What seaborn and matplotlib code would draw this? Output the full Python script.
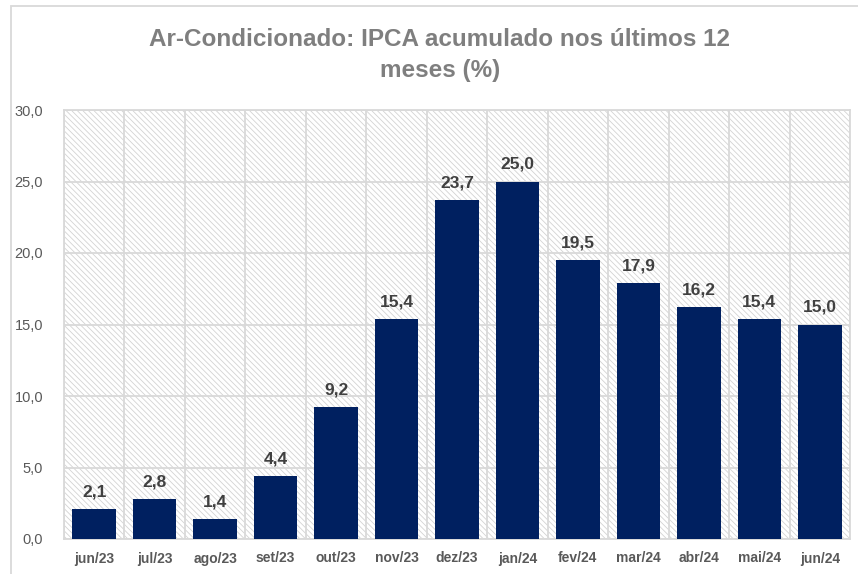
import matplotlib
matplotlib.use("Agg")
import matplotlib.pyplot as plt
import seaborn as sns
import pandas as pd
from matplotlib.patches import Rectangle
from matplotlib.ticker import FuncFormatter, FixedLocator

meses = ["jun/23", "jul/23", "ago/23", "set/23", "out/23", "nov/23", "dez/23",
         "jan/24", "fev/24", "mar/24", "abr/24", "mai/24", "jun/24"]
ipca_12m = [2.1, 2.8, 1.4, 4.4, 9.2, 15.4, 23.7, 25.0, 19.5, 17.9, 16.2, 15.4, 15.0]

df = pd.DataFrame({"mes": meses, "ipca": ipca_12m})

sns.set_style("white")
plt.rcParams["font.family"] = ["Liberation Sans", "DejaVu Sans"]
plt.rcParams["hatch.linewidth"] = 0.6

grid_col = "#d9d9d9"
bar_col = "#002060"

fig = plt.figure(figsize=(8.58, 5.74), dpi=100)
ax = fig.add_axes([64 / 858, 1 - 539 / 574, (850 - 64) / 858, (539 - 110) / 574])

# fundo hachurado da area do grafico
ax.patch.set_facecolor("white")
ax.patch.set_edgecolor("#d3d3d3")
ax.patch.set_hatch("\\\\\\\\\\\\")
ax.patch.set_linewidth(0)

sns.barplot(data=df, x="mes", y="ipca", color=bar_col, width=0.72,
            saturation=1, linewidth=0, ax=ax, zorder=3)

ax.set_xlim(-0.5, len(meses) - 0.5)
ax.set_ylim(0, 30)
ax.set_yticks([0, 5, 10, 15, 20, 25, 30])
ax.yaxis.set_major_formatter(FuncFormatter(lambda v, p: f"{v:.1f}".replace(".", ",")))
ax.xaxis.set_minor_locator(FixedLocator([i - 0.5 for i in range(len(meses) + 1)]))

ax.grid(True, axis="y", which="major", color=grid_col, linewidth=1.3, zorder=1)
ax.grid(True, axis="x", which="minor", color=grid_col, linewidth=1.3, zorder=1)
ax.grid(False, axis="x", which="major")
ax.set_axisbelow(True)

for s in ax.spines.values():
    s.set_color(grid_col)
    s.set_linewidth(1.3)

ax.tick_params(axis="both", which="both", length=0)
ax.tick_params(axis="y", labelsize=10.5, labelcolor="#595959", pad=15)
ax.tick_params(axis="x", labelsize=10, labelcolor="#595959", pad=9)
for t in ax.get_xticklabels():
    t.set_fontweight("bold")
ax.set_xlabel("")
ax.set_ylabel("")

labels = [f"{v:.1f}".replace(".", ",") for v in ipca_12m]
ax.bar_label(ax.containers[0], labels=labels, padding=7, fontsize=12.5,
             fontweight="bold", color="#404040")

fig.text(440 / 858, 1 - 55 / 574,
         "Ar-Condicionado: IPCA acumulado nos últimos 12\nmeses (%)",
         ha="center", va="center", fontsize=17.5, fontweight="bold",
         color="#7f7f7f", linespacing=1.5)

# borda do grafico
fig.patches.append(Rectangle((11 / 858, -0.1), 1.2, 1 - 6 / 574 + 0.1,
                             transform=fig.transFigure, fill=False,
                             edgecolor=grid_col, linewidth=1.3))

fig.savefig("out.png", dpi=100)
